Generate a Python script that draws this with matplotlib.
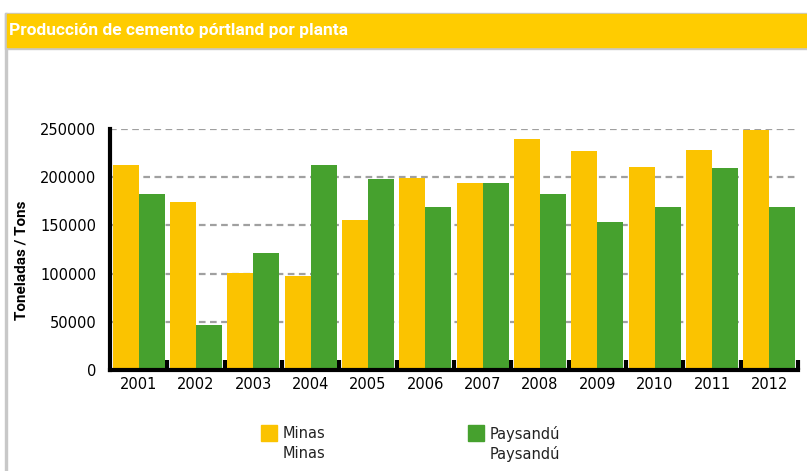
import matplotlib

matplotlib.use("Agg")
import matplotlib.pyplot as plt
import numpy as np
from matplotlib.patches import Rectangle

YEARS = ["2001", "2002", "2003", "2004", "2005", "2006",
         "2007", "2008", "2009", "2010", "2011", "2012"]
MINAS = [213000, 174000, 101000, 97000, 156000, 199000,
         194000, 240000, 227000, 211000, 228000, 249000]
PAYSANDU = [183000, 47000, 121000, 213000, 198000, 169000,
            194000, 183000, 154000, 169000, 210000, 169000]
SERIES = ["Minas", "Paysandú"]
COLORS = ["#FBC300", "#46A12E"]

W, H = 807, 471
fig = plt.figure(figsize=(W / 100, H / 100), dpi=100)


def fx(px):
    return px / W


def fy(py):
    return 1 - py / H


# outer frame and yellow title band
gray = "#C8C8C8"
fig.patches.append(Rectangle((fx(5), 0), fx(2), fy(13), transform=fig.transFigure,
                             color=gray, zorder=0))
fig.patches.append(Rectangle((fx(5), fy(49)), 1, 36 / H, transform=fig.transFigure,
                             color=gray, zorder=0))
fig.patches.append(Rectangle((fx(7), fy(47)), 1, 33 / H, transform=fig.transFigure,
                             color="#FFCC00", zorder=1))
fig.text(fx(9), fy(31), "Producción de cemento pórtland por planta", color="white",
         fontsize=12.5, fontweight="bold", va="center", ha="left",
         family=["Roboto", "DejaVu Sans"])

ax = fig.add_axes([fx(110), fy(370), fx(798) - fx(110), (370 - 129) / H])
x = np.arange(len(YEARS))
bw = 0.455
ax.bar(x - bw / 2, MINAS, bw, color=COLORS[0], zorder=2, label=SERIES[0])
ax.bar(x + bw / 2, PAYSANDU, bw, color=COLORS[1], zorder=2, label=SERIES[1])

ax.set_xlim(-0.5, len(YEARS) - 0.5)
ax.set_ylim(0, 250000)
ax.set_yticks(np.arange(0, 250001, 50000))
ax.set_yticklabels([str(v) for v in range(0, 250001, 50000)], fontsize=10.5)
ax.set_xticks(x)
ax.set_xticklabels(YEARS, fontsize=10.5)
ax.tick_params(axis="x", length=0, pad=5)
ax.tick_params(axis="y", length=0, pad=10)
ax.set_xticks(np.arange(0.5, len(YEARS), 1), minor=True)
ax.tick_params(axis="x", which="minor", direction="in", length=7, width=3, color="black")
ax.yaxis.grid(True, color="#A0A0A0", ls=(0, (3, 2)), lw=1.6, zorder=0)
ax.set_axisbelow(True)
for s in ["top", "right"]:
    ax.spines[s].set_visible(False)
for s in ["left", "bottom"]:
    ax.spines[s].set_linewidth(3)
    ax.spines[s].set_zorder(3)
ax.set_ylabel("Toneladas / Tons", fontsize=11, fontweight="bold",
              family=["Roboto", "DejaVu Sans"])
ax.yaxis.set_label_coords(-0.118, 0.455)

# legend drawn by hand as two-line labels
for i, (name, col) in enumerate(zip(SERIES, COLORS)):
    x0 = [261, 468][i]
    fig.patches.append(Rectangle((fx(x0), fy(441)), fx(16), 16 / H,
                                 transform=fig.transFigure, color=col))
    fig.text(fx(x0 + 22), fy(434), name, fontsize=10.5, va="center", color="#222222")
    fig.text(fx(x0 + 22), fy(454), name, fontsize=10.5, va="center", color="#222222")

fig.savefig("out.png", dpi=100)
